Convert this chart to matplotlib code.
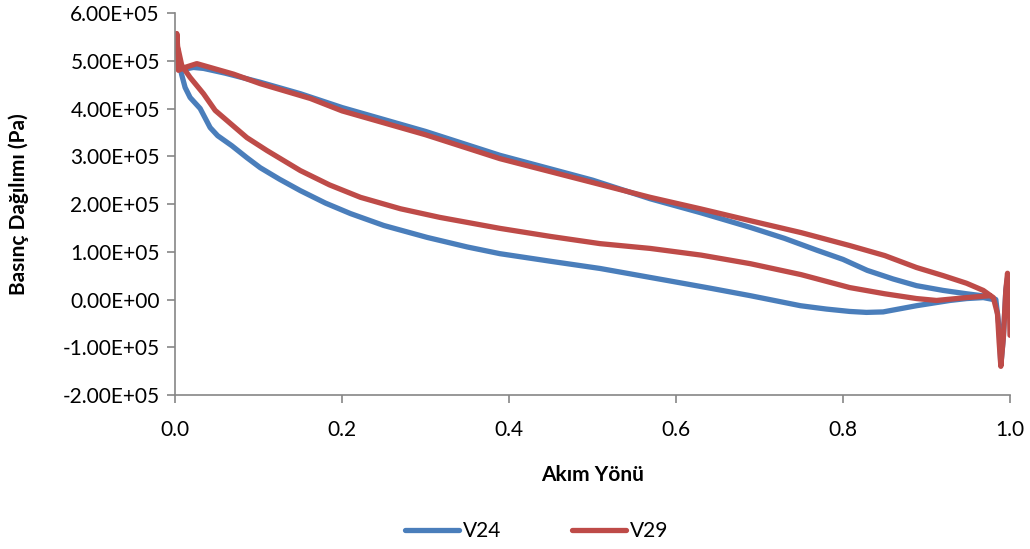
import matplotlib
matplotlib.use("Agg")
import matplotlib.pyplot as plt

# V24: lower surface (TE -> LE), then upper surface (LE -> TE), then trailing-edge spike
v24_x = [0.980, 0.968, 0.948, 0.928, 0.888, 0.848, 0.828, 0.808, 0.780, 0.749, 0.689, 0.640,
         0.589, 0.509, 0.450, 0.389, 0.350, 0.302, 0.250, 0.210, 0.180, 0.150, 0.125, 0.102,
         0.086, 0.068, 0.051, 0.042, 0.030, 0.018, 0.012, 0.008,
         0.004, 0.010, 0.022, 0.034, 0.060, 0.102, 0.150, 0.200, 0.300, 0.389, 0.500, 0.569,
         0.629, 0.689, 0.730, 0.769, 0.800, 0.829, 0.860, 0.888, 0.920, 0.948, 0.975,
         0.983, 0.987, 0.989, 0.992, 0.995, 0.997, 0.999, 1.000]
v24_y = [0.00, 0.04, 0.02, -0.02, -0.13, -0.26, -0.27, -0.25, -0.20, -0.13, 0.08, 0.24,
         0.40, 0.65, 0.80, 0.96, 1.10, 1.30, 1.55, 1.80, 2.02, 2.28, 2.52, 2.76,
         2.97, 3.22, 3.43, 3.60, 4.00, 4.23, 4.44, 4.70,
         5.00, 4.82, 4.86, 4.84, 4.74, 4.55, 4.31, 4.02, 3.52, 3.02, 2.50, 2.11,
         1.82, 1.51, 1.28, 1.03, 0.84, 0.61, 0.43, 0.29, 0.19, 0.12, 0.06,
         0.00, -0.60, -1.38, -0.80, 0.20, 0.45, 0.30, 0.10]

# V29
v29_x = [0.976, 0.948, 0.912, 0.888, 0.850, 0.808, 0.750, 0.689, 0.630, 0.569, 0.509, 0.450,
         0.389, 0.317, 0.270, 0.222, 0.185, 0.150, 0.110, 0.086, 0.062, 0.048, 0.034, 0.018,
         0.008, 0.003, 0.002, 0.004, 0.010, 0.026, 0.042, 0.070, 0.102, 0.162, 0.200, 0.300,
         0.389, 0.500, 0.569, 0.629, 0.689, 0.750, 0.808, 0.850, 0.888, 0.920, 0.948,
         0.968, 0.980, 0.985, 0.987, 0.989, 0.992, 0.995, 0.997, 0.999, 1.000]
v29_y = [0.08, 0.04, -0.02, 0.02, 0.12, 0.25, 0.52, 0.75, 0.93, 1.07, 1.17, 1.32,
         1.49, 1.72, 1.90, 2.14, 2.40, 2.70, 3.12, 3.39, 3.75, 3.96, 4.31, 4.65,
         4.90, 5.30, 5.57, 4.80, 4.85, 4.94, 4.86, 4.72, 4.52, 4.21, 3.95, 3.45,
         2.95, 2.45, 2.14, 1.90, 1.65, 1.40, 1.13, 0.92, 0.67, 0.50, 0.34,
         0.19, 0.04, -0.30, -0.90, -1.40, -0.80, 0.20, 0.55, 0.10, -0.75]

x_ticks = [0.0, 0.2, 0.4, 0.6, 0.8, 1.0]
y_ticks = [-2e5, -1e5, 0, 1e5, 2e5, 3e5, 4e5, 5e5, 6e5]

plt.rcParams['font.family'] = ['Lato', 'DejaVu Sans']

fig = plt.figure(figsize=(10.30, 5.49), dpi=100)
ax = fig.add_axes([0.170, 0.2805, 0.8106, 0.6958])

blue = '#4A7EBB'
red = '#BE4B48'
ax.plot(v24_x, [v * 1e5 for v in v24_y], color=blue, lw=3.8, label='V24',
        solid_joinstyle='round', solid_capstyle='round')
ax.plot(v29_x, [v * 1e5 for v in v29_y], color=red, lw=3.8, label='V29',
        solid_joinstyle='round', solid_capstyle='round')

ax.set_xlim(0, 1.0)
ax.set_ylim(-2e5, 6e5)
ax.set_xticks(x_ticks)
ax.set_xticklabels([f'{t:.1f}' for t in x_ticks])
ax.set_yticks(y_ticks)
ax.set_yticklabels(['0.00E+00' if v == 0 else f'{v:.2E}' for v in y_ticks])

for s in ['top', 'right']:
    ax.spines[s].set_visible(False)
for s in ['left', 'bottom']:
    ax.spines[s].set_color('#868686')
    ax.spines[s].set_linewidth(1.2)
ax.tick_params(axis='both', direction='out', length=6, width=1.2, color='#868686',
               labelsize=15, labelcolor='black', pad=5)
ax.tick_params(axis='x', pad=12)

ax.set_xlabel('Akım Yönü', fontsize=15, fontweight='bold', labelpad=18)
ax.set_ylabel('Basınç Dağılımı (Pa)', fontsize=15, fontweight='bold', labelpad=24)

fig.legend(loc='center', bbox_to_anchor=(0.521, 0.033), ncol=2, frameon=False,
           fontsize=15, handlelength=2.6, columnspacing=3.4, handletextpad=0.2)

fig.savefig('out.png', dpi=100)
